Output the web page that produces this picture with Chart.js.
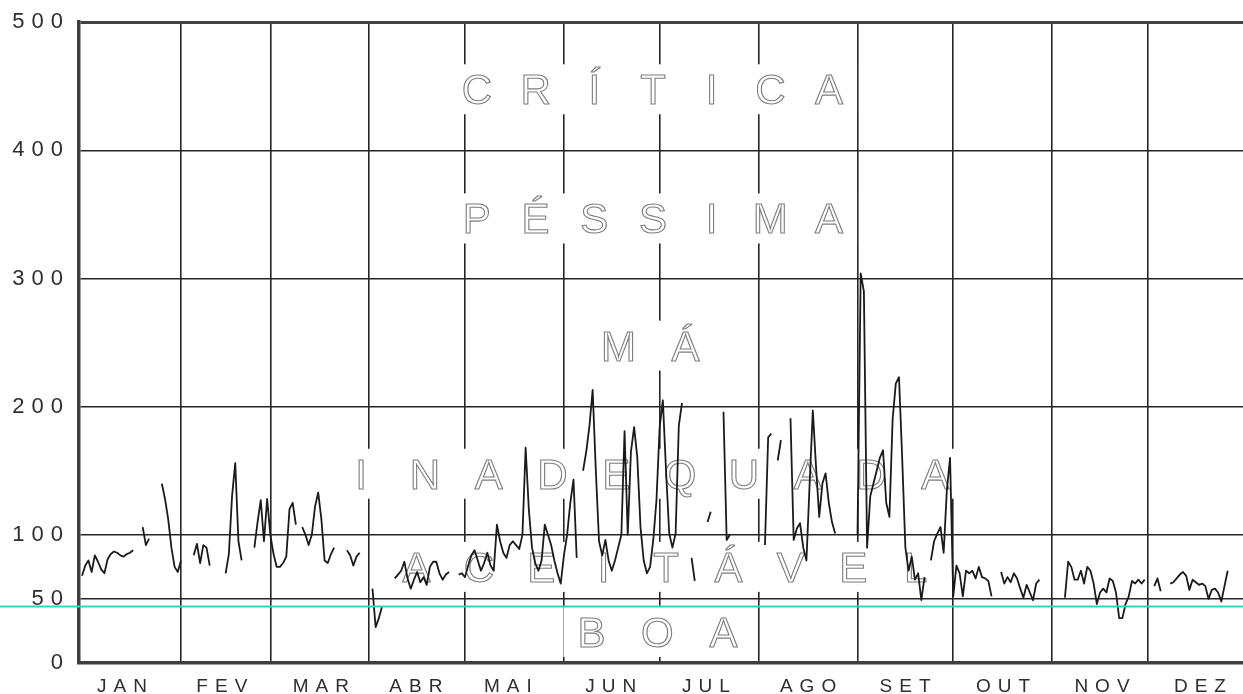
<!DOCTYPE html>
<html lang="pt">
<head>
<meta charset="utf-8">
<script src="https://cdn.jsdelivr.net/npm/chart.js@4.4.1/dist/chart.umd.min.js"></script>
<style>
  html, body { margin: 0; padding: 0; background: #ffffff; }
  canvas { display: block; }
</style>
</head>
<body>
<canvas id="grafico" width="1243" height="694"></canvas>
<script>
// Meses e rótulos do eixo horizontal
const monthNames = ['JAN', 'FEV', 'MAR', 'ABR', 'MAI', 'JUN', 'JUL', 'AGO', 'SET', 'OUT', 'NOV', 'DEZ'];
const monthDays = [31, 28, 31, 30, 31, 30, 31, 31, 30, 31, 30, 31];
// dia do ano onde cada nome de mês é escrito
const monthLabelDays = [13.6, 44.9, 75.9, 105.7, 134.5, 166.8, 196.6, 228.6, 259.0, 289.7, 320.7, 351.4];

// Eixo vertical
const yTickValues = [0, 50, 100, 200, 300, 400, 500];
const referenceLevel = 44;

// Classes de qualidade do ar e o valor central de cada faixa
const classNames = ['BOA', 'ACEITÁVEL', 'INADEQUADA', 'MÁ', 'PÉSSIMA', 'CRÍTICA'];
const classCenters = [25, 75, 150, 250, 350, 450];

// Índice diário (null = dia sem medição)
const iqaJan = [68, 76, 80, 71, 84, 79, 73, 70, 81, 85, 87, 86, 84, 83, 85, 86, 88, null, null, 106, 92, 97, null, null, null, 140, 128, 112, 90, 75, 71];
const iqaFev = [80, null, null, null, 84, 93, 78, 92, 90, 76, null, null, null, null, 70, 85, 130, 156, 95, 80, null, null, null, 90, 110, 127, 95, 128];
const iqaMar = [100, 85, 75, 75, 78, 83, 120, 125, 108, null, 106, 100, 92, 100, 122, 133, 112, 80, 78, 85, 90, null, null, null, 88, 84, 76, 83, 86, null, null];
const iqaAbr = [null, 58, 28, 35, 44, null, null, null, 66, 69, 72, 79, 66, 58, 65, 71, 63, 67, 61, 75, 79, 79, 70, 65, 69, 71, null, null, 69, 70];
const iqaMai = [67, 76, 84, 88, 80, 72, 78, 86, 76, 72, 108, 95, 86, 82, 92, 95, 92, 89, 100, 168, 120, 90, 78, 72, 80, 108, 100, 92, 80, 70, 62];
const iqaJun = [84, 100, 125, 143, 82, null, 150, 165, 185, 213, 150, 95, 84, 96, 80, 72, 80, 90, 100, 181, 100, 165, 184, 160, 106, 80, 70, 75, 96, 127];
const iqaJul = [184, 205, 150, 101, 90, 101, 185, 203, null, null, 82, 64, null, null, null, 110, 118, null, null, null, 196, 96, 100, null, null, null, null, null, null, null, null];
const iqaAgo = [null, null, 92, 176, 179, null, 158, 174, null, null, 191, 96, 105, 109, 90, 80, 140, 197, 153, 114, 140, 148, 125, 110, 101, null, null, null, null, null, null];
const iqaSet = [100, 304, 290, 90, 130, 140, 150, 160, 166, 125, 114, 190, 218, 223, 160, 90, 72, 83, 65, 70, 49, 67, null, 80, 95, 101, 106, 86, 135, 160];
const iqaOut = [52, 76, 70, 52, 72, 70, 72, 66, 75, 67, 66, 64, 52, null, null, 71, 62, 67, 63, 70, 66, 58, 51, 61, 55, 49, 62, 65, null, null, null];
const iqaNov = [null, null, null, null, 51, 79, 75, 65, 65, 72, 62, 75, 72, 62, 46, 55, 58, 55, 66, 64, 55, 35, 35, 46, 52, 64, 62, 65, 62, 65];
const iqaDez = [null, null, 60, 66, 56, null, null, 62, 63, 66, 69, 71, 68, 57, 65, 63, 61, 62, 60, 50, 57, 58, 55, 48, 60, 72, null, null, null, null, null];

const monthlySeries = [iqaJan, iqaFev, iqaMar, iqaAbr, iqaMai, iqaJun, iqaJul, iqaAgo, iqaSet, iqaOut, iqaNov, iqaDez];

// Série diária com o dia do ano como coordenada horizontal
const dailyPoints = [];
let dayOfYear = 0;
monthlySeries.forEach(month => month.forEach(v => {
  dailyPoints.push({ x: dayOfYear, y: v });
  dayOfYear++;
}));

// Início de cada mês (linhas verticais da grade)
const monthStarts = [];
monthDays.reduce((acc, d, i) => {
  const next = acc + d;
  if (i < monthDays.length - 1) monthStarts.push(next);
  return next;
}, 0);

const X_MIN = -0.96;
const X_MAX = 363.8;

// Aparência das faixas de texto das classes
const classRowStyle = {
  'BOA':        { centerDay: 180.3, gap: 66,   dy: 1 },
  'ACEITÁVEL':  { centerDay: 183.0, gap: 62.4, dy: 0 },
  'INADEQUADA': { centerDay: 177.4, gap: 63.8, dy: 3 },
  'MÁ':         { centerDay: 178.6, gap: 67,   dy: 3 },
  'PÉSSIMA':    { centerDay: 178.9, gap: 58.7, dy: 4 },
  'CRÍTICA':    { centerDay: 178.9, gap: 58.7, dy: 3 }
};

const classLabelsPlugin = {
  id: 'classLabels',
  beforeDatasetsDraw(chart) {
    const { ctx, scales } = chart;
    ctx.save();
    ctx.letterSpacing = '0px';
    ctx.font = '42px "Liberation Sans", Arial, sans-serif';
    ctx.textAlign = 'center';
    ctx.textBaseline = 'alphabetic';
    classNames.forEach((name, i) => {
      const st = classRowStyle[name];
      const letters = Array.from(name);
      const cx = scales.x.getPixelForValue(st.centerDay);
      const cy = scales.y.getPixelForValue(classCenters[i]) + st.dy;
      const first = cx - (letters.length - 1) / 2 * st.gap;
      const last = cx + (letters.length - 1) / 2 * st.gap;
      // fundo branco que interrompe a grade atrás do texto
      ctx.fillStyle = '#ffffff';
      ctx.fillRect(first - 28, cy - 25, last - first + 56, 50);
      letters.forEach((ch, k) => {
        const lx = first + k * st.gap;
        ctx.fillStyle = '#ffffff';
        ctx.fillText(ch, lx, cy + 15);
        ctx.lineWidth = 1.1;
        ctx.strokeStyle = '#7d7d7d';
        ctx.strokeText(ch, lx, cy + 15);
      });
    });
    ctx.restore();
  }
};

const spacingPlugin = {
  id: 'tickSpacing',
  beforeDraw(chart) {
    chart.ctx.letterSpacing = '7px';
  }
};

const referencePlugin = {
  id: 'referenceLine',
  afterDraw(chart) {
    const { ctx, scales } = chart;
    const y = scales.y.getPixelForValue(referenceLevel);
    ctx.save();
    ctx.strokeStyle = '#2fd6c6';
    ctx.lineWidth = 2;
    ctx.beginPath();
    ctx.moveTo(0, y);
    ctx.lineTo(chart.width, y);
    ctx.stroke();
    ctx.restore();
  }
};

const tickFont = { family: '"Liberation Sans", Arial, sans-serif', size: 22 };
const monthFont = { family: '"Liberation Sans", Arial, sans-serif', size: 19 };

new Chart(document.getElementById('grafico'), {
  type: 'line',
  data: {
    datasets: [{
      data: dailyPoints,
      borderColor: '#1a1a1a',
      borderWidth: 1.8,
      borderJoinStyle: 'round',
      pointRadius: 0,
      spanGaps: false,
      tension: 0,
      fill: false
    }]
  },
  options: {
    responsive: false,
    animation: false,
    devicePixelRatio: 1,
    layout: { padding: { top: 21, right: 0, bottom: 0, left: 0 } },
    plugins: {
      legend: { display: false },
      tooltip: { enabled: false }
    },
    scales: {
      x: {
        type: 'linear',
        position: 'bottom',
        min: X_MIN,
        max: X_MAX,
        afterBuildTicks(scale) { scale.ticks = monthStarts.map(v => ({ value: v })); },
        afterFit(scale) { scale.height = 0; },
        ticks: { display: false },
        grid: { color: '#262626', lineWidth: 1.6, drawTicks: false },
        border: { display: true, color: '#3f3f3f', width: 3.5 }
      },
      xl: {
        type: 'linear',
        position: 'bottom',
        min: X_MIN,
        max: X_MAX,
        afterBuildTicks(scale) { scale.ticks = monthLabelDays.map(v => ({ value: v })); },
        afterFit(scale) { scale.height = 31; },
        ticks: {
          autoSkip: false,
          maxRotation: 0,
          padding: 12,
          color: '#2e2e2e',
          font: monthFont,
          callback: (value, index) => monthNames[index]
        },
        grid: { display: false, drawTicks: false },
        border: { display: false }
      },
      y: {
        type: 'linear',
        min: 0,
        max: 500,
        afterBuildTicks(scale) { scale.ticks = yTickValues.map(v => ({ value: v })); },
        afterFit(scale) { scale.width = 79; },
        ticks: {
          padding: 9,
          color: '#2e2e2e',
          font: tickFont,
          callback: v => String(v)
        },
        grid: {
          drawTicks: false,
          color: ctx => (ctx.tick && ctx.tick.value === 500 ? '#444444' : '#262626'),
          lineWidth: ctx => (ctx.tick && ctx.tick.value === 500 ? 3 : 1.6)
        },
        border: { display: true, color: '#3f3f3f', width: 3.5 }
      }
    }
  },
  plugins: [spacingPlugin, classLabelsPlugin, referencePlugin]
});
</script>
</body>
</html>
